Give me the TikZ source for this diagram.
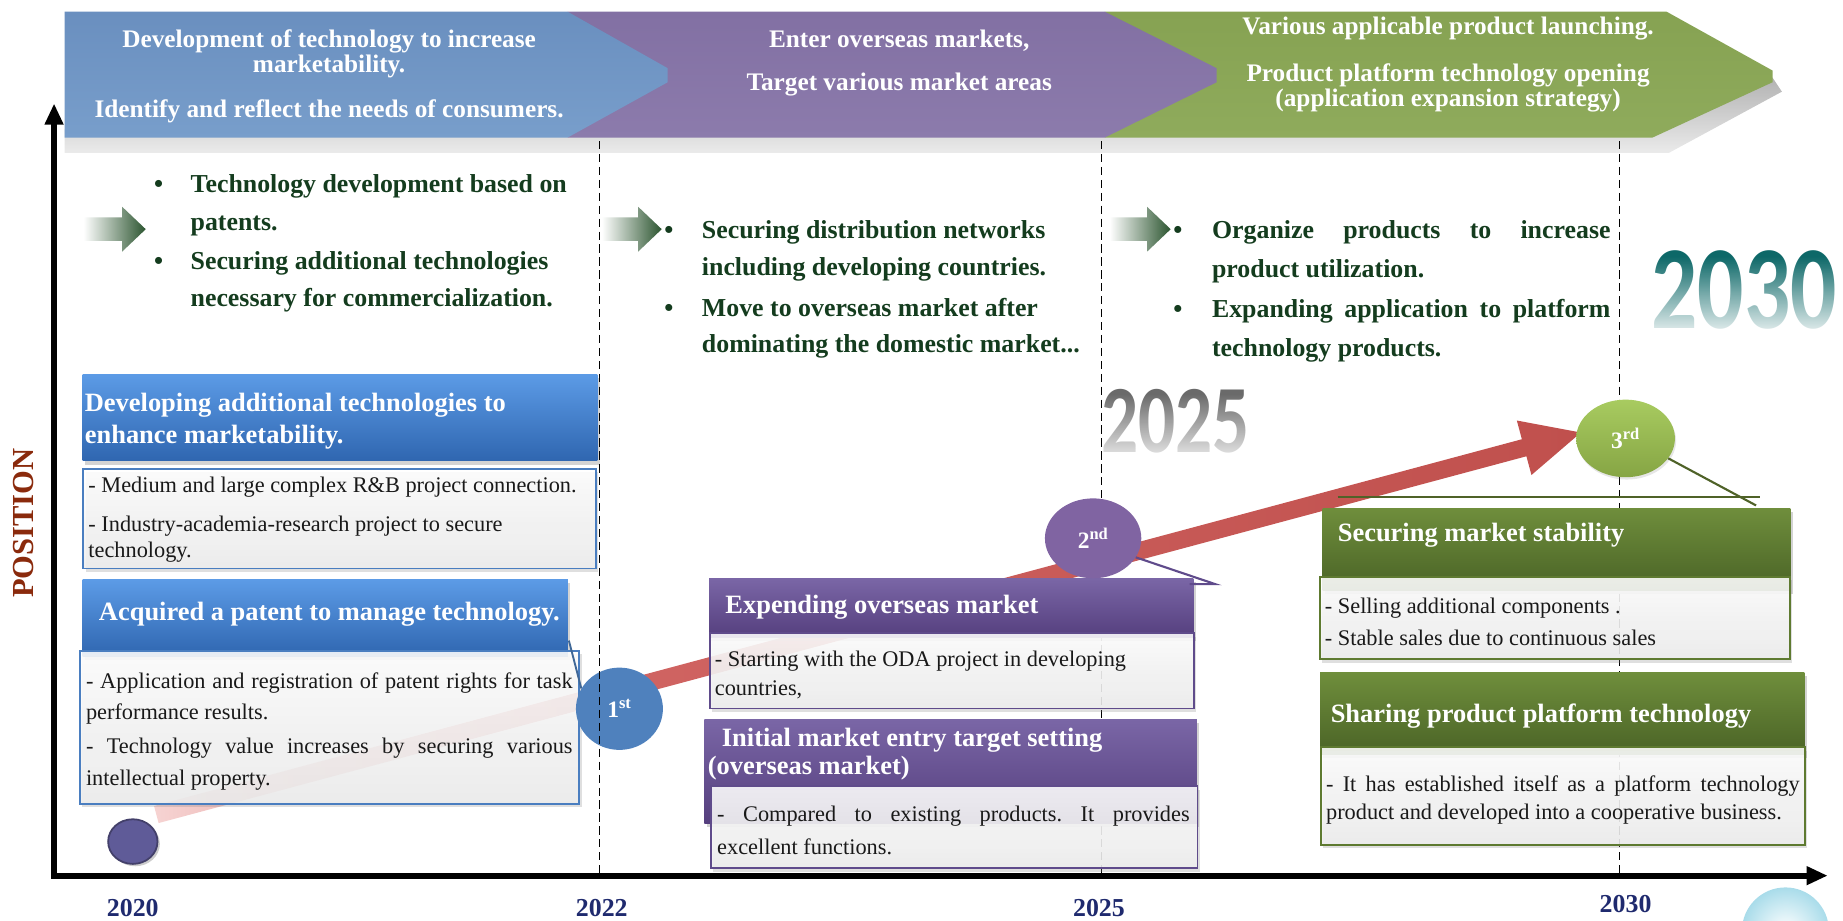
\documentclass[tikz,border=0pt]{standalone}
\usepackage{fontspec}
\setmainfont{Liberation Serif}
\newfontfamily\yearfont{Carlito}
\usepackage{graphicx}
\usetikzlibrary{arrows.meta,fadings,calc,shapes.geometric,shadows}
\frenchspacing

\definecolor{bannerblueT}{HTML}{6A8FBF}
\definecolor{bannerblueB}{HTML}{789ECB}
\definecolor{bannerpurT}{HTML}{8270A3}
\definecolor{bannerpurB}{HTML}{8C7BAC}
\definecolor{bannergrnT}{HTML}{86A252}
\definecolor{bannergrnB}{HTML}{8FAB5C}
\definecolor{dkgreen}{HTML}{143C1E}
\definecolor{arrowgreen}{HTML}{2C5530}
\definecolor{hblueT}{HTML}{5C9BE6}
\definecolor{hblueB}{HTML}{2F66B0}
\definecolor{bblue}{HTML}{4A7EC0}
\definecolor{hpurT}{HTML}{7A66A6}
\definecolor{hpurB}{HTML}{553F7E}
\definecolor{bpur}{HTML}{5F4B8B}
\definecolor{hgrnT}{HTML}{6F8E3C}
\definecolor{hgrnB}{HTML}{4A6326}
\definecolor{bgrn}{HTML}{5E7A30}
\definecolor{navy}{HTML}{1F2A6E}
\definecolor{posred}{HTML}{8A2A0C}
\definecolor{redarrow}{HTML}{C0504D}
\definecolor{redpink}{HTML}{F6D3D2}
\definecolor{redmid}{HTML}{D06462}
\definecolor{c1blue}{HTML}{4F81BD}
\definecolor{c2pur}{HTML}{8064A2}
\definecolor{c3grnT}{HTML}{A8CB60}
\definecolor{c3grnB}{HTML}{86A544}
\definecolor{c0pur}{HTML}{5F5B98}
\definecolor{teal2030}{HTML}{0D6868}
\definecolor{grey2025}{HTML}{6A6A6A}
\definecolor{linegrn}{HTML}{4F6228}
\definecolor{bubble}{HTML}{A9DCEA}

\pgfdeclarehorizontalshading{redfade}{100bp}{color(0bp)=(redpink); color(25bp)=(redpink); color(41bp)=(redmid); color(75bp)=(redarrow); color(100bp)=(redarrow)}

\tikzset{
  hdrbox/.style={anchor=north west, inner sep=0pt, draw=none,
     drop shadow={opacity=0.35, shadow xshift=2pt, shadow yshift=-3pt}},
  bodybox/.style={anchor=north west, inner sep=0pt, line width=1.5pt,
     top color=white, bottom color=black!7, fill opacity=0.88,
     drop shadow={opacity=0.25, shadow xshift=2pt, shadow yshift=-3pt}},
  hdrtxt/.style={anchor=base west, text=white, inner sep=0pt,
     font=\fontsize{22.5}{27}\selectfont\bfseries},
  bodytxt/.style={anchor=base west, text=black!90, inner sep=0pt,
     font=\fontsize{19}{23}\selectfont},
  bultxt/.style={anchor=base west, text=dkgreen, inner sep=0pt,
     font=\fontsize{22}{26}\selectfont\bfseries},
  bantxt/.style={anchor=base, text=white, inner sep=0pt,
     font=\fontsize{21.5}{26}\selectfont\bfseries},
  yeartxt/.style={anchor=base, text=navy, inner sep=0pt,
     font=\fontsize{22}{26}\selectfont\bfseries},
  circtxt/.style={text=white, font=\fontsize{20}{22}\selectfont\bfseries},
  axisline/.style={line width=5pt, line join=miter},
  yeardash/.style={line width=1.3pt, dash pattern=on 7pt off 4pt},
  gradarrow/.style={left color=white, right color=arrowgreen},
}

\begin{document}
\begin{tikzpicture}[x=1pt,y=-1pt]
\useasboundingbox (0,0) rectangle (1568,783);
\begin{scope}
\clip (0,0) rectangle (1568,783);

% ---------------- banner ----------------
\shade[top color=black!30, bottom color=black!8]
  (55,110) -- (1410,110) -- (1508,66) -- (1516,78) -- (1420,130) -- (55,130) -- cycle;
\shade[top color=bannergrnT, bottom color=bannergrnB]
  (940,10) -- (1418,10) -- (1508,60) -- (1508,70) -- (1406,117) -- (940,117) -- cycle;
\shade[top color=bannerpurT, bottom color=bannerpurB]
  (483,10) -- (940,10) -- (1035,58) -- (1035,70) -- (940,117) -- (483,117) -- cycle;
\shade[top color=bannerblueT, bottom color=bannerblueB]
  (55,10) -- (483,10) -- (568,58) -- (568,70) -- (483,117) -- (55,117) -- cycle;

\node[bantxt] (ban1a) at (280,40) {Development of technology to increase};
\node[bantxt] (ban1b) at (280,62) {marketability.};
\node[bantxt] (ban1c) at (280,100) {Identify and reflect the needs of consumers.};
\node[bantxt] (ban2a) at (765,40) {Enter overseas markets,};
\node[bantxt] (ban2b) at (765,77) {Target various market areas};
\node[bantxt] (ban3a) at (1232,29) {Various applicable product launching.};
\node[bantxt] (ban3b) at (1232,69) {Product platform technology opening};
\node[bantxt] (ban3c) at (1232,91) {(application expansion strategy)};

% ---------------- big year watermarks ----------------
\node[text=grey2025, inner sep=0pt, font=\yearfont\bfseries\fontsize{82}{82}\selectfont]
  (big2025) at (1000,358) {\scalebox{0.76}[1]{2025}};
\fill[white, fill opacity=0.85, path fading=north] (930,335) rectangle (1075,390);
\node[text=teal2030, inner sep=0pt, font=\yearfont\bfseries\fontsize{101}{101}\selectfont]
  (big2030) at (1484,247) {\scalebox{0.77}[1]{2030}};
\fill[white, fill opacity=0.92, path fading=north] (1395,218) rectangle (1568,285);

% ---------------- dashed year lines (2025, 2030 behind boxes) ----------------
\coordinate (d1t) at (510,120); \coordinate (d1b) at (510,743);
\coordinate (d2t) at (937,120); \coordinate (d2b) at (937,743);
\coordinate (d3t) at (1378,120); \coordinate (d3b) at (1378,743);
\draw[yeardash] (d2t) -- (d2b);
\draw[yeardash] (d3t) -- (d3b);

% ---------------- axes ----------------
\coordinate (O) at (46,745);
\coordinate (YT) at (46,88);
\coordinate (XT) at (1555,745);
\draw[axisline, {Triangle[length=18pt,width=15pt]}-{Triangle[length=18pt,width=15pt]}] (YT) -- (O) -- (XT);

\node[rotate=90, text=posred, inner sep=0pt, font=\fontsize{26}{30}\selectfont\bfseries] (pos) at (20,445) {POSITION};

\node[yeartxt] (yr2020) at (113,780) {2020};
\node[yeartxt] (yr2022) at (512,780) {2022};
\node[yeartxt] (yr2025) at (935,780) {2025};
\node[yeartxt] (yr2030) at (1383,776) {2030};

% ---------------- small gradient arrows ----------------
\shade[gradarrow] (71,185) -- (104,185) -- (104,176) -- (124,195) -- (104,214) -- (104,205) -- (71,205) -- cycle;
\shade[gradarrow] (512,185) -- (543,185) -- (543,176) -- (563,195) -- (543,214) -- (543,205) -- (512,205) -- cycle;
\shade[gradarrow] (944,185) -- (976,185) -- (976,176) -- (996,195) -- (976,214) -- (976,205) -- (944,205) -- cycle;

% ---------------- bullet texts ----------------
\node[bultxt] (bu1a) at (131,164) {•};
\node[bultxt] (t1a) at (162,164) {Technology development based on};
\node[bultxt] (t1b) at (162,196) {patents.};
\node[bultxt] (bu1b) at (131,229) {•};
\node[bultxt] (t1c) at (162,229) {Securing additional technologies};
\node[bultxt] (t1d) at (162,261) {necessary for commercialization.};

\node[bultxt] (bu2a) at (565,203) {•};
\node[bultxt] (t2a) at (597,203) {Securing distribution networks};
\node[bultxt] (t2b) at (597,234) {including developing countries.};
\node[bultxt] (bu2b) at (565,269) {•};
\node[bultxt] (t2c) at (597,269) {Move to overseas market after};
\node[bultxt] (t2d) at (597,300) {dominating the domestic market...};

\node[bultxt] (bu3a) at (998,203) {•};
\node[bultxt] (t3a) at (1031,203) {\makebox[339pt][s]{Organize products to increase}};
\node[bultxt] (t3b) at (1031,236) {product utilization.};
\node[bultxt] (bu3b) at (998,270) {•};
\node[bultxt] (t3c) at (1031,270) {\makebox[339pt][s]{Expanding application to platform}};
\node[bultxt] (t3d) at (1031,303) {technology products.};

% ---------------- red progress arrow ----------------
\coordinate (S) at (133,693);
\coordinate (T) at (1345,368);
\coordinate (B) at ($(T)!50pt!(S)$);
\shade[shading=redfade]
  ($(S)!7.5pt!90:(T)$) -- ($(B)!7.5pt!-90:(S)$) -- ($(B)!24pt!-90:(S)$) -- (T)
  -- ($(B)!24pt!90:(S)$) -- ($(B)!7.5pt!90:(S)$) -- ($(S)!7.5pt!-90:(T)$) -- cycle;

% ---------------- boxes: 2020-2022 ----------------
\node[hdrbox, top color=hblueT, bottom color=hblueB, minimum width=438pt, minimum height=74pt] (hA) at (70,318) {};
\node[bodybox, draw=bblue, minimum width=436pt, minimum height=85pt] (bA) at (70,398) {};
\node[hdrtxt] (hAt1) at (72,350) {Developing additional technologies to};
\node[hdrtxt] (hAt2) at (72,377) {enhance marketability.};
\node[bodytxt] (bAt1) at (75,419) {- Medium and large complex R\&B project connection.};
\node[bodytxt] (bAt2) at (75,452) {- Industry-academia-research project to secure};
\node[bodytxt] (bAt3) at (75,474) {technology.};

\node[hdrbox, top color=hblueT, bottom color=hblueB, minimum width=413pt, minimum height=65pt] (hB) at (70,493) {};
\node[bodybox, draw=bblue, minimum width=425pt, minimum height=130pt] (bB) at (67,553) {};
\node[hdrtxt] (hBt1) at (84,528) {Acquired a patent to manage technology.};
\node[bodytxt] (bBt1) at (73,586) {\makebox[414pt][s]{- Application and registration of patent rights for task}};
\node[bodytxt] (bBt2) at (73,612) {performance results.};
\node[bodytxt] (bBt3) at (73,641) {\makebox[414pt][s]{- Technology value increases by securing various}};
\node[bodytxt] (bBt4) at (73,668) {intellectual property.};

% ---------------- boxes: 2022-2025 ----------------
\node[hdrbox, top color=hpurT, bottom color=hpurB, minimum width=412pt, minimum height=50pt] (hC) at (603,492) {};
\node[bodybox, draw=bpur, minimum width=412pt, minimum height=64pt] (bC) at (603,538) {};
\node[hdrtxt] (hCt1) at (617,522) {Expending overseas market};
\node[bodytxt] (bCt1) at (608,567) {- Starting with the ODA project in developing};
\node[bodytxt] (bCt2) at (608,592) {countries,};

\node[hdrbox, top color=hpurT, bottom color=hpurB, minimum width=419pt, minimum height=88pt] (hD) at (599,612) {};
\node[bodybox, draw=bpur, minimum width=414pt, minimum height=70pt] (bD) at (604,668) {};
\node[hdrtxt] (hDt1) at (614,635) {Initial market entry target setting};
\node[hdrtxt] (hDt2) at (602,659) {(overseas market)};
\node[bodytxt] (bDt1) at (610,699) {\makebox[402pt][s]{- Compared to existing products. It provides}};
\node[bodytxt] (bDt2) at (610,727) {excellent functions.};

% ---------------- boxes: 2025-2030 ----------------
\node[hdrbox, top color=hgrnT, bottom color=hgrnB, minimum width=398pt, minimum height=70pt] (hE) at (1125,432) {};
\node[bodybox, draw=bgrn, minimum width=400pt, minimum height=70pt] (bE) at (1122,490) {};
\node[hdrtxt] (hEt1) at (1138,461) {Securing market stability};
\node[bodytxt] (bEt1) at (1127,522) {- Selling additional components .};
\node[bodytxt] (bEt2) at (1127,549) {- Stable sales due to continuous sales};

\node[hdrbox, top color=hgrnT, bottom color=hgrnB, minimum width=412pt, minimum height=70pt] (hF) at (1123,572) {};
\node[bodybox, draw=bgrn, minimum width=412pt, minimum height=83pt] (bF) at (1123,635) {};
\node[hdrtxt] (hFt1) at (1132,615) {Sharing product platform technology};
\node[bodytxt] (bFt1) at (1128,673) {\makebox[403pt][s]{- It has established itself as a platform technology}};
\node[bodytxt] (bFt2) at (1128,697) {product and developed into a cooperative business.};

% ---------------- milestone circles ----------------
\node[ellipse, fill=c0pur, draw=c0pur!70!black, line width=1.5pt, minimum width=42pt, minimum height=38pt, inner sep=0pt,
      drop shadow={opacity=0.4, shadow xshift=2pt, shadow yshift=-2pt}] (c0) at (113,716) {};
\node[ellipse, fill=c1blue, minimum width=74pt, minimum height=70pt, inner sep=0pt, circtxt] (c1) at (527,603) {1\textsuperscript{st}};
\node[ellipse, fill=c2pur, minimum width=82pt, minimum height=68pt, inner sep=0pt, circtxt] (c2) at (930,458) {2\textsuperscript{nd}};
\node[ellipse, top color=c3grnT, bottom color=c3grnB, minimum width=84pt, minimum height=66pt, inner sep=0pt, circtxt,
      drop shadow={opacity=0.2, shadow xshift=1pt, shadow yshift=-2pt}] (c3) at (1383,373) {3\textsuperscript{rd}};

% ---------------- 2022 dashed line (drawn over the 1st circle) ----------------
\draw[yeardash] (d1t) -- (d1b);

% ---------------- callout connectors ----------------
\coordinate (p1) at (484,545);
\draw[line width=1.6pt, c1blue!80!black] (p1) -- (c1.152);
\coordinate (p2a) at (1034,497);
\coordinate (p2b) at (1012,497);
\draw[line width=1.8pt, bpur] (c2.-24) -- (p2a) -- (p2b);
\coordinate (p3) at (1494,430);
\coordinate (h3a) at (1138,423);
\coordinate (h3b) at (1497,423);
\draw[line width=1.8pt, linegrn] (c3.-25) -- (p3);
\draw[line width=2.2pt, linegrn] (h3a) -- (h3b);

% ---------------- decorative bubble ----------------
\shade[inner color=white, outer color=bubble] (1519,792) circle (37pt);
\end{scope}
\end{tikzpicture}
\end{document}
